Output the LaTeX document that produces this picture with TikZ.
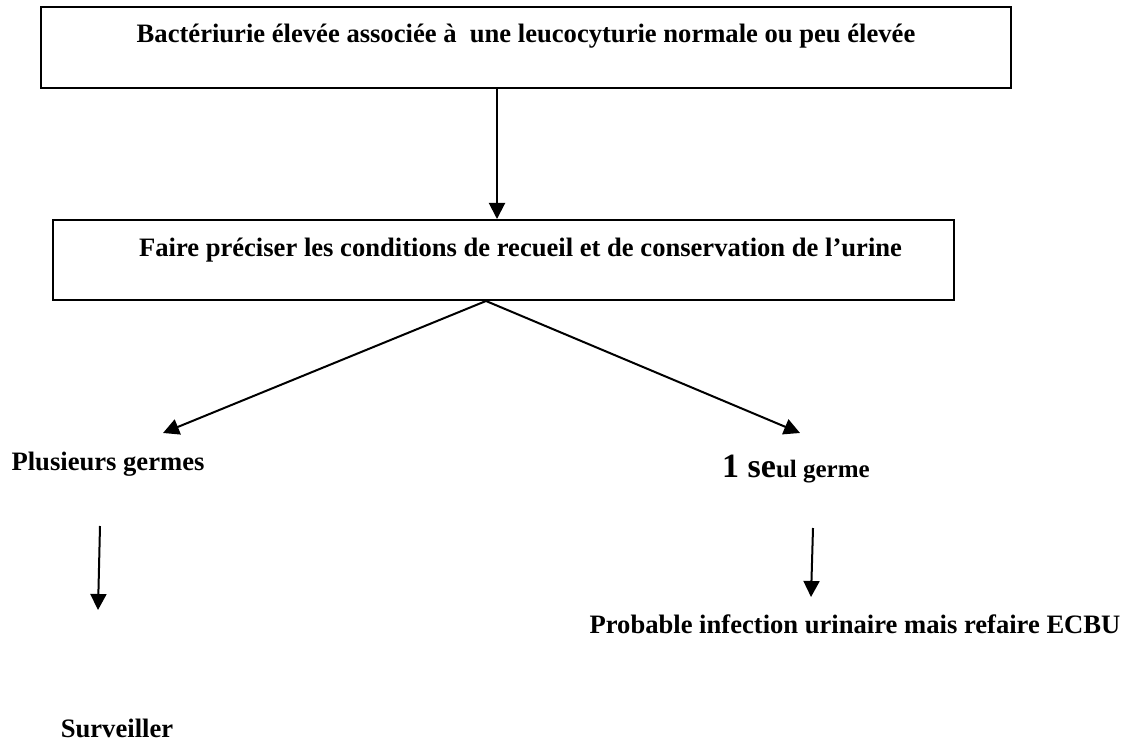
\documentclass[tikz,border=0pt]{standalone}
\usepackage{fontspec}
\setmainfont{Liberation Serif}
\usepackage{tikz}
\usetikzlibrary{arrows.meta}

\tikzset{
  box/.style={draw, line width=1pt, inner sep=0pt, font=\fontsize{13.3}{16}\selectfont\bfseries},
  txt/.style={anchor=base, inner sep=0pt, font=\fontsize{13.3}{16}\selectfont\bfseries},
  arr/.style={line width=1pt, -{Triangle[width=8pt,length=8pt]}}
}

\begin{document}
\begin{tikzpicture}[x=0.5pt,y=-0.5pt]
\useasboundingbox (0,0) rectangle (1128,742);

\node[box, minimum width=485pt, text height=18pt, text depth=22.5pt] (bact) at (526,47.5)
  {Bactériurie élevée associée à\ \ une leucocyturie normale ou peu élevée};
\node[box, minimum width=450.5pt, text height=18.5pt, text depth=21.5pt] (faire) at (503.5,260)
  {\hspace*{17pt}Faire préciser les conditions de recueil et de conservation de l’urine};

\node[txt] (plus) at (108,470) {Plusieurs germes};
\node[txt, font=\fontsize{12.5}{15}\selectfont\bfseries] (seul) at (796,477) {{\fontsize{17}{19}\selectfont 1 se}ul germe};
\node[txt] (prob) at (855,633) {Probable infection urinaire mais refaire ECBU};
\node[txt] (surv) at (117,737) {Surveiller};

\coordinate (tipl) at (163,433);
\coordinate (tipr) at (800,433);
\coordinate (startl) at (100,526);
\coordinate (endl) at (98,610);
\coordinate (startr) at (813,528);
\coordinate (endr) at (811,597);

\draw[arr] ([xshift=-14.5pt]bact.south) -- ([xshift=-14.5pt]bact.south |- faire.north);
\draw[arr] ([xshift=-8.75pt]faire.south) -- (tipl);
\draw[arr] ([xshift=-8.75pt]faire.south) -- (tipr);
\draw[arr] (startl) -- (endl);
\draw[arr] (startr) -- (endr);
\end{tikzpicture}
\end{document}
